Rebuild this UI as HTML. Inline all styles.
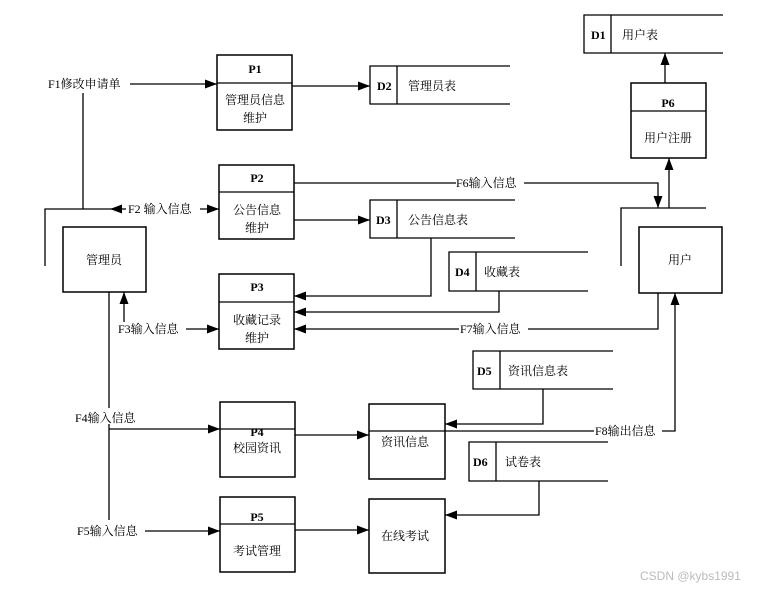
<!DOCTYPE html>
<html><head><meta charset="utf-8"><style>
html,body{margin:0;padding:0;background:#fff;}
svg{display:block;}
text{font-family:"Liberation Serif","Noto Serif CJK SC","Noto Sans CJK SC",serif;font-size:12px;fill:#000;}
.c{text-anchor:middle;}
.b{font-weight:bold;}
</style></head><body>
<svg width="769" height="589" viewBox="0 0 769 589" xmlns="http://www.w3.org/2000/svg">
<defs>
<marker id="a" viewBox="0 0 12 10" refX="12" refY="5" markerWidth="12" markerHeight="10" markerUnits="userSpaceOnUse" orient="auto"><path d="M0,0.5 L12,5 L0,9.5 z" fill="#000"/></marker>
</defs>
<g fill="none" stroke="#000" stroke-width="1.3">
<rect x="217" y="55" width="75" height="75" stroke-width="1.5"/><line x1="217" y1="83" x2="292" y2="83"/>
<rect x="219" y="165" width="75" height="74" stroke-width="1.5"/><line x1="219" y1="192" x2="294" y2="192"/>
<rect x="219" y="274" width="75" height="75" stroke-width="1.5"/><line x1="219" y1="302" x2="294" y2="302"/>
<rect x="220" y="402" width="75" height="75" stroke-width="1.5"/><line x1="220" y1="429" x2="295" y2="429"/>
<rect x="220" y="497" width="75" height="75" stroke-width="1.5"/><line x1="220" y1="524" x2="295" y2="524"/>
<rect x="631" y="83" width="75" height="75" stroke-width="1.5"/><line x1="631" y1="111" x2="706" y2="111"/>
<rect x="369" y="404" width="76" height="75" stroke-width="1.5"/>
<rect x="369" y="499" width="76" height="74" stroke-width="1.5"/>
<rect x="63" y="227" width="83" height="65" stroke-width="1.5"/>
<rect x="639" y="227" width="83" height="66" stroke-width="1.5"/>
<path d="M723,15 H584 V53 H723 M611,15 V53"/>
<path d="M510,66 H370 V104 H510 M397,66 V104"/>
<path d="M515,200 H370 V238 H515 M397,200 V238"/>
<path d="M588,252 H449 V291 H588 M476,252 V291"/>
<path d="M613,351 H473 V389 H613 M500,351 V389"/>
<path d="M608,442 H469 V481 H608 M496,442 V481"/>
<path d="M45,266 V209 H110"/>
<line x1="83" y1="93" x2="83" y2="209"/>
<line x1="130" y1="84" x2="217" y2="84" marker-end="url(#a)"/>
<line x1="126" y1="209" x2="110" y2="209" marker-end="url(#a)"/>
<line x1="200" y1="209" x2="219" y2="209" marker-end="url(#a)"/>
<line x1="292" y1="86" x2="370" y2="86" marker-end="url(#a)"/>
<line x1="294" y1="220" x2="370" y2="220" marker-end="url(#a)"/>
<path d="M294,183 H456 M524,183 H658 V208" marker-end="url(#a)"/>
<path d="M621,266 V208 H706"/>
<line x1="669" y1="208" x2="669" y2="158" marker-end="url(#a)"/>
<line x1="665" y1="83" x2="665" y2="53" marker-end="url(#a)"/>
<path d="M431,238 V296 H294" marker-end="url(#a)"/>
<path d="M499,291 V312 H294" marker-end="url(#a)"/>
<path d="M658,293 V329 H528 M459,329 H294" marker-end="url(#a)"/>
<line x1="124" y1="322" x2="124" y2="292" marker-end="url(#a)"/>
<line x1="186" y1="329" x2="219" y2="329" marker-end="url(#a)"/>
<line x1="109" y1="292" x2="109" y2="408"/>
<line x1="109" y1="424" x2="109" y2="520"/>
<line x1="109" y1="429" x2="220" y2="429" marker-end="url(#a)"/>
<line x1="145" y1="531" x2="220" y2="531" marker-end="url(#a)"/>
<line x1="295" y1="435" x2="369" y2="435" marker-end="url(#a)"/>
<line x1="295" y1="530" x2="369" y2="530" marker-end="url(#a)"/>
<path d="M543,389 V424 H445" marker-end="url(#a)"/>
<path d="M539,481 V515 H445" marker-end="url(#a)"/>
<path d="M369,431 H594"/>
<path d="M662,431 H675 V293" marker-end="url(#a)"/>
</g>
<g>
<text class="c b" x="255" y="73">P1</text>
<text class="c" x="255" y="104">管理员信息</text>
<text class="c" x="255" y="122">维护</text>
<text class="c b" x="257" y="182">P2</text>
<text class="c" x="257" y="214">公告信息</text>
<text class="c" x="257" y="232">维护</text>
<text class="c b" x="257" y="291">P3</text>
<text class="c" x="257" y="324">收藏记录</text>
<text class="c" x="257" y="342">维护</text>
<text class="c b" x="257" y="436">P4</text>
<text class="c" x="257" y="452">校园资讯</text>
<text class="c b" x="257" y="521">P5</text>
<text class="c" x="257" y="555">考试管理</text>
<text class="c b" x="668" y="107">P6</text>
<text class="c" x="668" y="142">用户注册</text>
<text class="c" x="405" y="446">资讯信息</text>
<text class="c" x="405" y="540">在线考试</text>
<text class="c" x="104" y="264">管理员</text>
<text class="c" x="680" y="264">用户</text>
<text class="b" x="591" y="39">D1</text><text x="622" y="39">用户表</text>
<text class="b" x="377" y="90">D2</text><text x="408" y="90">管理员表</text>
<text class="b" x="376" y="224">D3</text><text x="408" y="224">公告信息表</text>
<text class="b" x="455" y="276">D4</text><text x="484" y="276">收藏表</text>
<text class="b" x="477" y="375">D5</text><text x="508" y="375">资讯信息表</text>
<text class="b" x="473" y="466">D6</text><text x="505" y="466">试卷表</text>
<text x="48" y="88">F1修改申请单</text>
<text x="128" y="213">F2 输入信息</text>
<text x="118" y="333">F3输入信息</text>
<text x="75" y="422">F4输入信息</text>
<text x="77" y="535">F5输入信息</text>
<text x="456" y="187">F6输入信息</text>
<text x="460" y="333">F7输入信息</text>
<text x="595" y="435">F8输出信息</text>
<text x="640" y="580" style="fill:#bbb;font-family:'Liberation Sans',sans-serif;font-size:12px">CSDN @kybs1991</text>
</g>
</svg>
</body></html>
